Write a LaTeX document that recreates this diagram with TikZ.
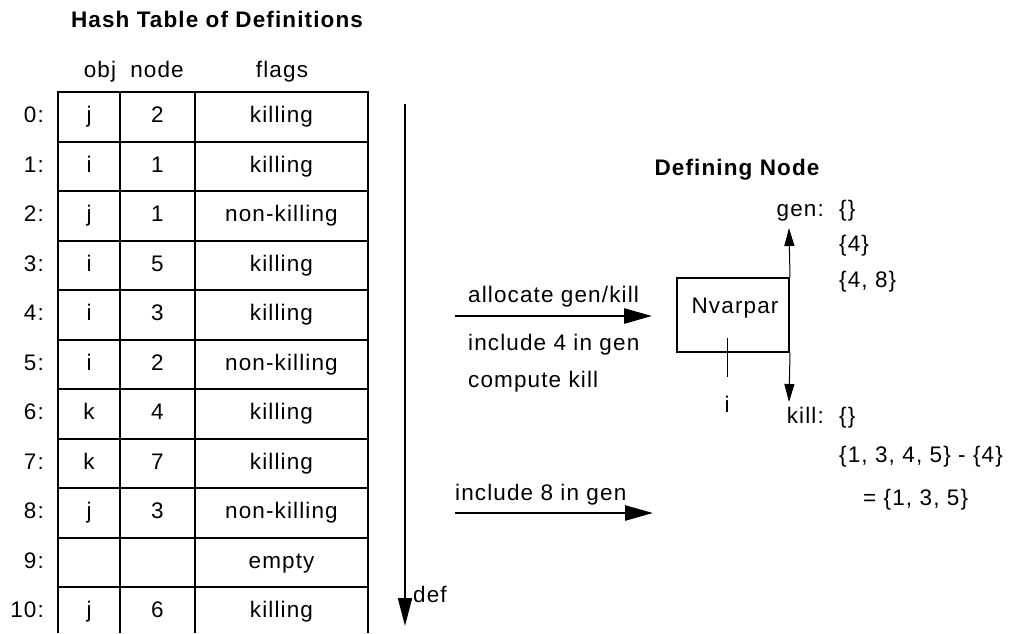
\documentclass[tikz,border=0pt]{standalone}
\usepackage{fontspec}
\setmainfont{Liberation Sans}[LetterSpace=5]
\usetikzlibrary{arrows.meta}

\tikzset{
  txt/.style={inner sep=0pt, text height=16pt, text depth=4.5pt, font=\fontsize{22.5}{27}\selectfont},
  boldtxt/.style={txt, font=\fontsize{22.5}{27}\selectfont\bfseries},
  grid/.style={line width=2pt},
  defarrow/.style={line width=2pt, -{Triangle[length=28pt, width=14pt]}},
  bigarrow/.style={line width=2.6pt, -{Triangle[length=28pt, width=15pt]}},
  smallarrow/.style={line width=1pt, -{Triangle[length=18pt, width=10pt]}},
}

\begin{document}
\begin{tikzpicture}[x=1pt, y=-1pt]
    \useasboundingbox (0,0) rectangle (1015,633);

    % Title and column heads
    \node[boldtxt] (title) at (217,22) {Hash Table of Definitions};
    \node[txt] (hobj) at (100,72) {obj};
    \node[txt] (hnode) at (157,72) {node};
    \node[txt] (hflags) at (282,72) {flags};

    % Table grid (last row runs off the bottom)
    \foreach \k in {0,...,10} {
        \draw[grid] (58,92+49.5*\k) -- (368,92+49.5*\k);
    }
    \foreach \x in {58,120,195,368} {
        \draw[grid] (\x,91) -- (\x,633);
    }

    % Table entries
    \foreach \i/\o/\n/\f in {0/j/2/killing, 1/i/1/killing, 2/j/1/non-killing,
        3/i/5/killing, 4/i/3/killing, 5/i/2/non-killing, 6/k/4/killing,
        7/k/7/killing, 8/j/3/non-killing, 9/{}/{}/empty, 10/j/6/killing} {
        \node[txt, anchor=east] (r\i) at (44,116.75+49.5*\i) {\i:};
        \node[txt] (o\i) at (89,116.75+49.5*\i) {\o};
        \node[txt] (n\i) at (157.5,116.75+49.5*\i) {\n};
        \node[txt] (f\i) at (281.5,116.75+49.5*\i) {\f};
    }

    % Scan direction
    \coordinate (deftop) at (405,104);
    \coordinate (defend) at (405,626);
    \draw[defarrow] (deftop) -- (defend);
    \node[txt, anchor=west] (def) at (413,597) {def};

    % Defining node and its sets
    \node[boldtxt] (dntitle) at (737,170) {Defining Node};
    \node[draw, line width=2pt, minimum width=112pt, minimum height=74pt, inner sep=0pt] (nv) at (733,315) {};
    \node[txt] (nvtxt) at (735,308) {Nvarpar};
    \coordinate (ticktop) at (727,338);
    \coordinate (tickbot) at (727,377);
    \draw[line width=1pt] (ticktop) -- (tickbot);
    \node[txt] (ivar) at (727,407) {i};

    \coordinate (gentip) at (789,228);
    \coordinate (killtip) at (789,402);
    \draw[smallarrow] (nv.north east) -- (gentip);
    \draw[smallarrow] (nv.south east) -- (killtip);

    \node[txt, anchor=east] (gen) at (824,211) {gen:};
    \node[txt, anchor=west] (gen0) at (839,211) {\{\}};
    \node[txt, anchor=west] (gen1) at (839,246) {\{4\}};
    \node[txt, anchor=west] (gen2) at (839,282) {\{4, 8\}};

    \node[txt, anchor=east] (kill) at (824,418) {kill:};
    \node[txt, anchor=west] (kill0) at (839,418) {\{\}};
    \node[txt, anchor=west] (kill1) at (839,457) {\{1, 3, 4, 5\} - \{4\}};
    \node[txt, anchor=west] (kill2) at (863,500) {= \{1, 3, 5\}};

    % Actions while scanning
    \coordinate (allocfrom) at (455,316);
    \draw[bigarrow, shorten >=24pt] (allocfrom) -- (allocfrom -| nv.west);
    \node[txt, anchor=west] (alloc) at (468,297) {allocate gen/kill};
    \node[txt, anchor=west] (incl4) at (468,345) {include 4 in gen};
    \node[txt, anchor=west] (comp) at (468,382) {compute kill};

    \coordinate (inclfrom) at (455,513);
    \coordinate (inclto) at (653,513);
    \draw[bigarrow] (inclfrom) -- (inclto);
    \node[txt, anchor=west] (incl8) at (455,495) {include 8 in gen};

\end{tikzpicture}
\end{document}
